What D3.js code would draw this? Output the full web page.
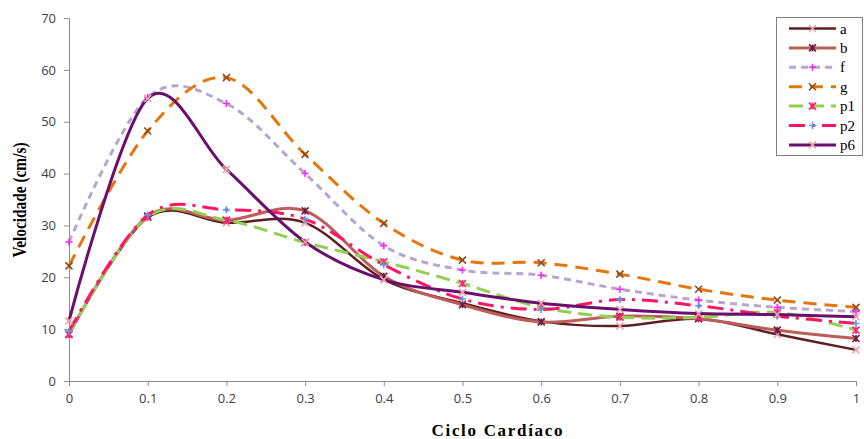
<!DOCTYPE html>
<html><head><meta charset="utf-8">
<script src="https://cdn.jsdelivr.net/npm/d3@7"></script>
<style>body{margin:0;background:#fff}svg{display:block}</style>
</head><body><svg id="c" width="864" height="439"></svg>
<script>
const xs = [0,0.1,0.2,0.3,0.4,0.5,0.6,0.7,0.8,0.9,1];
const xTicks = ["0","0.1","0.2","0.3","0.4","0.5","0.6","0.7","0.8","0.9","1"];
const yTicks = [0,10,20,30,40,50,60,70];
const seriesNames = ["a","b","f","g","p1","p2","p6"];
const a  = [9.0,31.5,30.5,30.5,19.6,15.0,11.5,10.6,12.0,9.0,6.0];
const b  = [9.0,31.8,31.0,32.8,20.2,14.7,11.4,12.5,12.0,9.8,8.2];
const f  = [26.8,54.7,53.5,40.0,26.1,21.4,20.4,17.7,15.6,14.2,13.4];
const g  = [22.2,48.2,58.5,43.7,30.4,23.3,22.8,20.6,17.7,15.6,14.2];
const p1 = [9.0,31.6,31.0,26.7,23.0,18.8,14.2,12.3,12.3,13.2,9.8];
const p2 = [9.6,32.0,33.0,31.2,22.4,15.8,13.8,15.7,14.5,12.5,11.1];
const p6 = [11.6,54.5,40.8,26.8,19.5,17.1,15.0,13.8,13.0,12.8,12.4];

const styles = {
  a:  {color:"#5E1E22", w:2.5, dash:null, mk:"x", mc:"#E8A7A9"},
  b:  {color:"#BC5D59", w:3, dash:null, mk:"star", mc:"#6A1A3E"},
  f:  {color:"#B7A6CF", w:3, dash:"7,5", mk:"plus", mc:"#FF22FF"},
  g:  {color:"#E5760E", w:3, dash:"13,8", mk:"x", mc:"#8E4A1A"},
  p1: {color:"#92D050", w:3, dash:"14,7", mk:"star", mc:"#FF1F7A"},
  p2: {color:"#FF1466", w:3, dash:"16,7,3,7", mk:"plus", mc:"#5B9BE0"},
  p6: {color:"#6A0F6E", w:3, dash:null, mk:"x", mc:"#E8A7A9"}
};
const data = {a,b,f,g,p1,p2,p6};

const svg = d3.select("#c");
const x = d3.scaleLinear().domain([0,1]).range([69,856]);
const y = d3.scaleLinear().domain([0,70]).range([381,18]);

// axes
const yAx = svg.append("g").attr("transform","translate(69,0)")
  .call(d3.axisLeft(y).tickValues(yTicks).tickSize(5).tickPadding(8).tickSizeOuter(0));
const xAx = svg.append("g").attr("transform","translate(0,381)")
  .call(d3.axisBottom(x).tickValues(xs).tickFormat((d,i)=>xTicks[i]).tickSize(5).tickPadding(8).tickSizeOuter(0));
[yAx,xAx].forEach(ax=>{
  ax.select(".domain").attr("stroke","#8c8c8c");
  ax.selectAll(".tick line").attr("stroke","#8c8c8c");
  ax.selectAll("text").attr("fill","#404040").style("font-family","'Open Sans','Liberation Sans',Arial,sans-serif").style("font-size","13px");
});

const line = d3.line().x((d,i)=>x(xs[i])).y(d=>y(d)).curve(d3.curveCatmullRom.alpha(0));

function marker(sel, type, color, s){
  const h = s/2;
  let p;
  if(type==="x") p = `M${-h},${-h}L${h},${h}M${-h},${h}L${h},${-h}`;
  else if(type==="plus") p = `M${-h},0L${h},0M0,${-h}L0,${h}`;
  else p = `M${-h},${-h}L${h},${h}M${-h},${h}L${h},${-h}M0,${-h}L0,${h}`;
  return sel.append("path").attr("d",p).attr("stroke",color).attr("stroke-width",1.6).attr("fill","none");
}

seriesNames.forEach(n=>{
  const st = styles[n];
  svg.append("path").datum(data[n]).attr("d",line).attr("fill","none")
    .attr("stroke",st.color).attr("stroke-width",st.w)
    .attr("stroke-dasharray",st.dash).attr("stroke-linecap",st.dash?"butt":"round");
  data[n].forEach((v,i)=>{
    const gm = svg.append("g").attr("transform",`translate(${x(xs[i])},${y(v)})`);
    marker(gm, st.mk, st.mc, 7);
  });
});

// legend
const lg = svg.append("g");
lg.append("rect").attr("x",776.5).attr("y",17.5).attr("width",86).attr("height",138)
  .attr("fill","#fff").attr("stroke","#7f7f7f").attr("stroke-width",1);
seriesNames.forEach((n,i)=>{
  const st = styles[n];
  const yy = 28.5 + i*19.4;
  lg.append("line").attr("x1",789).attr("x2",836).attr("y1",yy).attr("y2",yy)
    .attr("stroke",st.color).attr("stroke-width",st.w).attr("stroke-dasharray",st.dash);
  const gm = lg.append("g").attr("transform",`translate(812.5,${yy})`);
  marker(gm, st.mk, st.mc, 7);
  lg.append("text").attr("x",840).attr("y",yy+5).text(n)
    .style("font-family","'Liberation Serif','Times New Roman',serif").style("font-size","15px").attr("fill","#000");
});

// titles
svg.append("text").attr("transform","translate(26,200) rotate(-90)").attr("text-anchor","middle")
  .text("Velocidade (cm/s)").style("font-family","'Liberation Serif','Times New Roman',serif")
  .style("font-size","19px").style("font-weight","bold").attr("textLength",115).attr("lengthAdjust","spacingAndGlyphs");
svg.append("text").attr("x",497).attr("y",436).attr("text-anchor","middle")
  .text("Ciclo Cardíaco").style("font-family","'Liberation Serif','Times New Roman',serif")
  .style("font-size","17px").style("font-weight","bold").attr("textLength",131).attr("lengthAdjust","spacing");
</script></body></html>
